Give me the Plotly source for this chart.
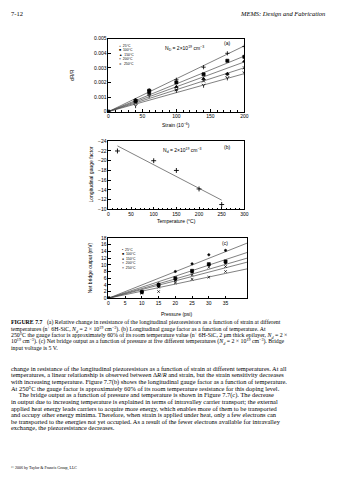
import plotly.graph_objects as go

# ---------------- data ----------------
temps_labels = ["25°C", "100°C", "150°C", "200°C", "250°C"]

strain = [0, 40, 60, 100, 140, 175, 200]
dr_25 = [0, 0.00079, 0.00146, 0.00218, 0.00304, 0.00399, 0.00446]
dr_100 = [0, 0.00075, 0.00143, 0.00200, 0.00255, 0.00348, 0.00375]
dr_150 = [0, 0.00070, 0.00130, 0.00170, 0.00225, 0.00260, 0.00345]
dr_200 = [0, 0.00060, 0.00120, 0.00150, 0.00210, 0.00250, 0.00300]
dr_250 = [0, 0.00040, 0.00110, 0.00145, 0.00180, 0.00230, 0.00265]
fit_a_x = [0, 200]
fit_a_end = [0.0045, 0.0038, 0.0034, 0.0030, 0.0026]

temperature = [20, 100, 150, 200, 250]
gauge_factor = [-22.0, -20.0, -18.0, -14.2, -11.0]
fit_b_x = [20, 250]
fit_b_y = [-23.05, -11.9]

pressure = [0, 10, 15, 20, 25, 30, 35]
out_25 = [0, 2.0, 4.3, 8.0, 10.3, 13.0, 14.3]
out_100 = [0, 1.9, 4.0, 6.0, 8.2, 10.2, 11.0]
out_150 = [0, 1.8, 3.6, 5.6, 7.8, 10.0, 10.6]
out_200 = [0, 1.7, 3.3, 5.2, 7.0, 9.3, 9.5]
out_250 = [0, 1.5, 2.0, 4.6, 5.7, 6.3, 8.0]
fit_c_x = [0, 41.5]
fit_c_end = [16.5, 13.7, 12.0, 10.8, 8.8]

W, H = 339, 480


def px(x):
    return x / W


def py(y):
    return 1 - y / H


fig = go.Figure()

LINE = dict(color="#4a4a4a", width=0.7)
sym_a = ["cross-thin", "square", "triangle-up", "x-thin", "y-down"]
sym_c = ["circle", "square", "circle", "x-thin", "x-thin"]

series_a = [dr_25, dr_100, dr_150, dr_200, dr_250]
for i, ys in enumerate(series_a):
    fig.add_trace(go.Scatter(x=fit_a_x, y=[0, fit_a_end[i]], mode="lines", line=LINE,
                             xaxis="x", yaxis="y", showlegend=False))
for i, ys in enumerate(series_a):
    fig.add_trace(go.Scatter(x=strain, y=ys, mode="markers", xaxis="x", yaxis="y",
                             marker=dict(symbol=sym_a[i], size=3, color="black",
                                         line=dict(color="black", width=0.8)),
                             showlegend=False))

fig.add_trace(go.Scatter(x=fit_b_x, y=fit_b_y, mode="lines", line=LINE,
                         xaxis="x2", yaxis="y2", showlegend=False))
fig.add_trace(go.Scatter(x=temperature, y=gauge_factor, mode="markers", xaxis="x2", yaxis="y2",
                         marker=dict(symbol="cross-thin", size=3.5, color="black",
                                     line=dict(color="black", width=0.9)),
                         showlegend=False))

series_c = [out_25, out_100, out_150, out_200, out_250]
for i, ys in enumerate(series_c):
    fig.add_trace(go.Scatter(x=fit_c_x, y=[0, fit_c_end[i]], mode="lines", line=LINE,
                             xaxis="x3", yaxis="y3", showlegend=False))
for i, ys in enumerate(series_c):
    fig.add_trace(go.Scatter(x=pressure, y=ys, mode="markers", xaxis="x3", yaxis="y3",
                             marker=dict(symbol=sym_c[i], size=[2.2, 3, 2.2, 2.6, 2.6][i],
                                         color="black",
                                         line=dict(color="black", width=0.7)),
                             showlegend=False))

TICKF = dict(family="Liberation Sans, Arial", size=5, color="black")
axcommon = dict(showline=True, linecolor="black", linewidth=0.7, mirror=True,
                ticks="inside", ticklen=2.5, tickwidth=0.6, tickcolor="black",
                showgrid=False, zeroline=False, tickfont=TICKF)

fig.update_layout(
    width=W, height=H, margin=dict(l=0, r=0, t=0, b=0),
    paper_bgcolor="white", plot_bgcolor="white",
    xaxis=dict(domain=[px(109), px(247)], range=[0, 200], tickvals=[0, 50, 100, 150, 200],
               anchor="y", minor=dict(ticks="inside", ticklen=1.5, dtick=10, tickcolor="black"),
               **axcommon),
    yaxis=dict(domain=[py(110), py(36)], range=[0, 0.005], dtick=0.001, anchor="x",
               **axcommon),
    xaxis2=dict(domain=[px(109), px(247)], range=[0, 300], dtick=50, anchor="y2",
                minor=dict(ticks="inside", ticklen=1.5, dtick=10, tickcolor="black"),
                **axcommon),
    yaxis2=dict(domain=[py(209), py(140)], range=[-10, -24], dtick=2, anchor="x2", **axcommon),
    xaxis3=dict(domain=[px(109), px(250)], range=[0, 41.5], tickvals=[0, 5, 10, 15, 20, 25, 30, 35],
                anchor="y3", **axcommon),
    yaxis3=dict(domain=[py(299), py(238)], range=[0, 18], dtick=2, anchor="x3", **axcommon),
)

ann = []
SANS = "Liberation Sans, Arial"
SERIF = "Liberation Serif, Times New Roman"


def add(text, x, y, size=5, family=SANS, xanchor="center", angle=0, align="center"):
    ann.append(dict(text=text, x=px(x), y=py(y), xref="paper", yref="paper",
                    showarrow=False, xanchor=xanchor, yanchor="middle", textangle=angle,
                    align=align, font=dict(family=family, size=size, color="black")))


# header
add("7-12", 8, 11, size=6.5, family=SERIF, xanchor="left")
add("<i>MEMS: Design and Fabrication</i>", 331, 11, size=6.5, family=SERIF, xanchor="right")

# panel a
add("dR/R", 72, 73, size=5, angle=-90)
add("Strain (10<sup>−6</sup>)", 178, 124, size=5)
add("N<sub>D</sub> = 2×10<sup>19</sup> cm<sup>−3</sup>", 186, 46, size=5)
add("(a)", 229, 41, size=5)
leg_a = "+  25°C<br>■  100°C<br>▲  150°C<br>×  200°C<br>⨯  250°C"
add(leg_a, 118, 53, size=3.4, xanchor="left", align="left")

# panel b
add("Longitudinal gauge factor", 91, 174, size=5, angle=-90)
add("Temperature (°C)", 178, 221, size=5)
add("N<sub>d</sub> = 2×10<sup>19</sup> cm<sup>−3</sup>", 184, 149, size=5)
add("(b)", 229, 146, size=5)

# panel c
add("Net bridge output (mV)", 90, 268, size=5, angle=-90)
add("Pressure (psi)", 178, 315, size=5)
add("(c)", 227, 243, size=5)
leg_c = "•  25°C<br>■  100°C<br>●  150°C<br>×  200°C<br>×  250°C"
add(leg_c, 121, 259, size=3.4, xanchor="left", align="left")

# caption
cap = [
    "<b>FIGURE 7.7</b>   (a) Relative change in resistance of the longitudinal piezoresistors as a function of strain at different",
    "temperatures (n<sup>+</sup> 6H-SiC, <i>N<sub>d</sub></i> = 2 × 10<sup>19</sup> cm<sup>−3</sup>). (b) Longitudinal gauge factor as a function of temperature. At",
    "250°C the gauge factor is approximately 60% of its room temperature value (n<sup>+</sup> 6H-SiC, 2 μm thick epilayer, <i>N<sub>d</sub></i> = 2 ×",
    "10<sup>19</sup> cm<sup>−3</sup>). (c) Net bridge output as a function of pressure at five different temperatures (<i>N<sub>d</sub></i> = 2 × 10<sup>19</sup> cm<sup>−3</sup>). Bridge",
    "input voltage is 5 V.",
]
for i, line in enumerate(cap):
    add(line, 8, 324 + i * 6.3, size=5.85, family=SERIF, xanchor="left", align="left")

body = [
    "change in resistance of the longitudinal piezoresistors as a function of strain at different temperatures. At all",
    "temperatures, a linear relationship is observed between Δ<i>R</i>/<i>R</i> and strain, but the strain sensitivity decreases",
    "with increasing temperature. Figure 7.7(b) shows the longitudinal gauge factor as a function of temperature.",
    "At 250°C the gauge factor is approximately 60% of its room temperature resistance for this doping level.",
    "     The bridge output as a function of pressure and temperature is shown in Figure 7.7(c). The decrease",
    "in output due to increasing temperature is explained in terms of intravalley carrier transport; the external",
    "applied heat energy leads carriers to acquire more energy, which enables more of them to be transported",
    "and occupy other energy minima. Therefore, when strain is applied under heat, only a few electrons can",
    "be transported to the energies not yet occupied. As a result of the fewer electrons available for intravalley",
    "exchange, the piezoresistance decreases.",
]
for i, line in enumerate(body):
    add(line, 8, 370 + i * 6.7, size=6.4, family=SERIF, xanchor="left", align="left")

add("© 2006 by Taylor & Francis Group, LLC", 8, 471, size=4, family=SERIF, xanchor="left")

fig.update_layout(annotations=ann)
fig.write_html("out.html")
